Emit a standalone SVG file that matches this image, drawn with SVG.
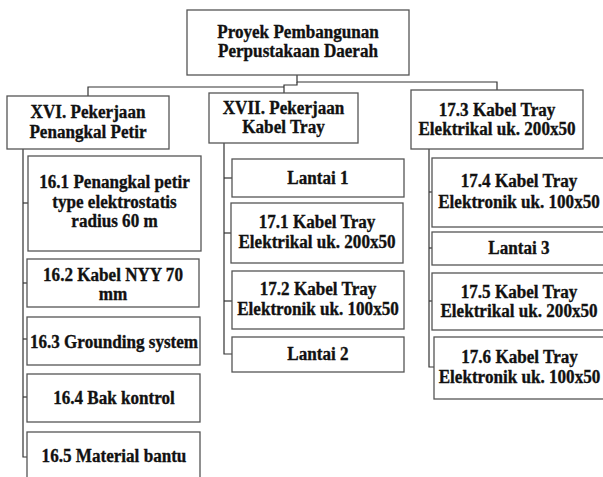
<svg xmlns="http://www.w3.org/2000/svg" width="603" height="477" viewBox="0 0 603 477">
  <style>
    .box { fill: #ffffff; stroke: #555555; stroke-width: 1.3; }
    .lbl { font-family: "Liberation Serif", "Times New Roman", serif; font-weight: bold; font-size: 19px; fill: #111111; stroke: #111111; stroke-width: 0.35; text-anchor: middle; }
    .conn { fill: none; stroke: #333333; stroke-width: 1.2; }
  </style>
  <rect width="603" height="477" fill="#ffffff"/>

  <!-- connectors -->
  <g id="connectors" class="conn">
    <path d="M297,75 V82 H497 V90"/>
    <path d="M297,82 V85 H284 V93"/>
    <path d="M284,87 H88 V96"/>
    <!-- XVI branch -->
    <path d="M23,149 V457 H28"/>
    <path d="M23,203 H28"/>
    <path d="M23,283 H27"/>
    <path d="M23,339 H27"/>
    <path d="M23,397 H27"/>
    <!-- XVII branch -->
    <path d="M224,143 V354 H232"/>
    <path d="M224,178 H232"/>
    <path d="M224,233 H231"/>
    <path d="M224,301 H232"/>
    <!-- 17.3 branch -->
    <path d="M429,149 V367 H434"/>
    <path d="M429,192 H432"/>
    <path d="M429,248 H432"/>
    <path d="M429,301 H432"/>
  </g>

  <!-- labels use a narrowed bold serif: translate to the line centre, squeeze horizontally -->
  <g id="root">
    <rect class="box" x="187" y="10" width="222" height="65"/>
    <text class="lbl" transform="translate(298,38) scale(0.9,1)">Proyek Pembangunan</text>
    <text class="lbl" transform="translate(298,57) scale(0.9,1)">Perpustakaan Daerah</text>
  </g>

  <!-- column XVI -->
  <g id="xvi">
    <rect class="box" x="7" y="96" width="162" height="53"/>
    <text class="lbl" transform="translate(88,118) scale(0.9,1)">XVI. Pekerjaan</text>
    <text class="lbl" transform="translate(88,138) scale(0.9,1)">Penangkal Petir</text>
  </g>
  <g id="n16-1">
    <rect class="box" x="28" y="156" width="173" height="95"/>
    <text class="lbl" transform="translate(114.5,188) scale(0.9,1)">16.1 Penangkal petir</text>
    <text class="lbl" transform="translate(114.5,208) scale(0.9,1)">type elektrostatis</text>
    <text class="lbl" transform="translate(114.5,227) scale(0.9,1)">radius 60 m</text>
  </g>
  <g id="n16-2">
    <rect class="box" x="27" y="259" width="172" height="48"/>
    <text class="lbl" transform="translate(113,281) scale(0.9,1)">16.2 Kabel NYY 70</text>
    <text class="lbl" transform="translate(113,300) scale(0.9,1)">mm</text>
  </g>
  <g id="n16-3">
    <rect class="box" x="27" y="317" width="173" height="48"/>
    <text class="lbl" transform="translate(114,347.5) scale(0.9,1)">16.3 Grounding system</text>
  </g>
  <g id="n16-4">
    <rect class="box" x="27" y="374" width="173" height="48"/>
    <text class="lbl" transform="translate(114,404) scale(0.9,1)">16.4 Bak kontrol</text>
  </g>
  <g id="n16-5">
    <rect class="box" x="27" y="432" width="173" height="60"/>
    <text class="lbl" transform="translate(114,462) scale(0.9,1)">16.5 Material bantu</text>
  </g>

  <!-- column XVII -->
  <g id="xvii">
    <rect class="box" x="209" y="93" width="149" height="50"/>
    <text class="lbl" transform="translate(283.5,114) scale(0.9,1)">XVII. Pekerjaan</text>
    <text class="lbl" transform="translate(283.5,133) scale(0.9,1)">Kabel Tray</text>
  </g>
  <g id="lantai1">
    <rect class="box" x="232" y="159" width="172" height="38"/>
    <text class="lbl" transform="translate(318,184) scale(0.9,1)">Lantai 1</text>
  </g>
  <g id="n17-1">
    <rect class="box" x="231" y="203" width="172" height="60"/>
    <text class="lbl" transform="translate(317,228) scale(0.9,1)">17.1 Kabel Tray</text>
    <text class="lbl" transform="translate(317,248) scale(0.9,1)">Elektrikal uk. 200x50</text>
  </g>
  <g id="n17-2">
    <rect class="box" x="232" y="271" width="172" height="58"/>
    <text class="lbl" transform="translate(318,295) scale(0.9,1)">17.2 Kabel Tray</text>
    <text class="lbl" transform="translate(318,315) scale(0.9,1)">Elektronik uk. 100x50</text>
  </g>
  <g id="lantai2">
    <rect class="box" x="232" y="337" width="172" height="35"/>
    <text class="lbl" transform="translate(318,360) scale(0.9,1)">Lantai 2</text>
  </g>

  <!-- column 17.3 -->
  <g id="n17-3">
    <rect class="box" x="411" y="90" width="172" height="59"/>
    <text class="lbl" transform="translate(497,116) scale(0.9,1)">17.3 Kabel Tray</text>
    <text class="lbl" transform="translate(497,135) scale(0.9,1)">Elektrikal uk. 200x50</text>
  </g>
  <g id="n17-4">
    <rect class="box" x="432" y="158" width="174" height="69"/>
    <text class="lbl" transform="translate(519,187) scale(0.9,1)">17.4 Kabel Tray</text>
    <text class="lbl" transform="translate(519,208) scale(0.9,1)">Elektronik uk. 100x50</text>
  </g>
  <g id="lantai3">
    <rect class="box" x="432" y="232" width="174" height="33"/>
    <text class="lbl" transform="translate(519,254) scale(0.9,1)">Lantai 3</text>
  </g>
  <g id="n17-5">
    <rect class="box" x="432" y="273" width="174" height="57"/>
    <text class="lbl" transform="translate(519,298) scale(0.9,1)">17.5 Kabel Tray</text>
    <text class="lbl" transform="translate(519,317) scale(0.9,1)">Elektrikal uk. 200x50</text>
  </g>
  <g id="n17-6">
    <rect class="box" x="434" y="337" width="172" height="62"/>
    <text class="lbl" transform="translate(519.5,363) scale(0.9,1)">17.6 Kabel Tray</text>
    <text class="lbl" transform="translate(519.5,383) scale(0.9,1)">Elektronik uk. 100x50</text>
  </g>
</svg>
